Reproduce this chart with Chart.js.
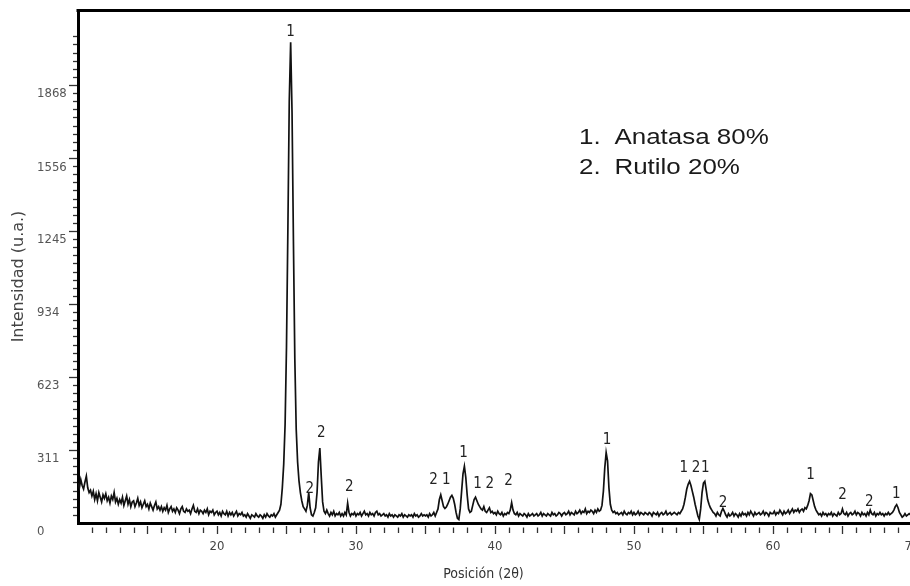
<!DOCTYPE html>
<html><head><meta charset="utf-8">
<script src="https://cdn.jsdelivr.net/npm/chart.js@4.4.1/dist/chart.umd.min.js"></script>
<style>html,body{margin:0;padding:0;background:#fff;overflow:hidden;width:910px;height:586px}canvas{display:block}</style>
</head><body><canvas id="c" width="930" height="586"></canvas>
<script>
// ---- data ----
const angleStart = 10.0;   // first sampled 2θ
const angleStep = 0.1;     // sampling step in 2θ
const counts10 = [
 170,150,185,160,145,175,200,150,130,140,
 115,135,100,125,95,130,110,90,120,105,
 125,95,110,85,115,100,130,90,105,80,
 100,85,110,75,95,115,80,100,70,90,
 95,70,85,105,75,90,65,80,95,70,
 80,60,85,70,55,75,90,60,70,55,
 70,50,65,55,75,45,60,70,50,60,
 45,65,55,40,60,70,50,45,60,50,
 55,40,60,75,50,45,60,40,55,50,
 40,55,45,60,35,50,45,55,35,45];
const counts20 = [
 50,35,45,30,50,40,35,50,30,45,
 35,45,30,40,50,30,40,35,45,30,
 35,25,40,30,20,35,30,25,40,30,
 25,35,30,20,35,25,40,30,25,35,
 30,40,25,35,45,55,80,150,250,420,
 750,1250,1800,2050,1750,1200,700,400,260,180,
 130,95,70,60,50,75,130,65,35,30,
 45,65,130,260,320,200,90,50,40,55,
 40,30,45,35,50,30,40,35,45,30,
 40,30,45,35,85,45,30,40,35,45];
const counts30 = [
 30,40,35,45,30,40,50,35,40,30,
 45,35,40,30,45,50,35,40,30,35,
 40,30,35,25,40,30,35,25,35,30,
 25,35,30,40,25,35,30,25,35,30,
 35,25,40,30,35,25,30,40,30,35,
 30,35,25,40,30,35,45,30,45,60,
 100,120,95,70,62,68,80,95,110,118,
 105,80,45,20,15,60,135,210,242,195,
 120,60,45,50,75,100,110,95,80,70,
 60,55,70,50,45,55,65,45,50,40];
const counts40 = [
 45,35,50,40,35,45,30,40,35,45,
 40,55,87,55,40,35,45,30,40,35,
 30,40,35,25,40,30,35,40,30,35,
 40,30,35,45,30,40,35,30,40,35,
 30,45,35,40,30,35,45,40,30,40,
 45,35,40,50,35,45,40,35,50,40,
 45,55,40,50,45,60,40,50,45,55,
 50,40,55,45,60,50,55,75,135,235,
 300,265,150,80,55,45,50,40,45,35,
 40,45,35,50,40,35,45,40,50,35];
const counts50 = [
 45,35,40,50,35,45,40,35,45,40,
 35,45,40,30,45,40,35,45,30,40,
 45,35,40,50,35,40,45,35,40,45,
 40,35,45,40,50,60,80,110,145,165,
 178,160,135,110,80,55,30,15,60,130,
 170,178,140,100,80,65,55,45,40,30,
 45,35,30,50,62,50,35,25,40,30,
 35,45,30,40,35,25,40,30,45,35,
 40,30,45,35,50,40,30,45,35,40,
 45,35,40,50,35,45,40,30,45,40];
const counts60 = [
 40,50,35,45,40,55,45,35,50,40,
 45,55,40,50,60,45,55,50,60,45,
 55,60,50,65,60,75,95,125,120,95,
 70,55,45,35,40,30,45,35,40,30,
 40,35,45,30,40,35,30,45,35,40,
 60,40,35,45,30,40,45,35,40,50,
 35,45,40,30,45,35,40,30,45,35,
 55,40,35,45,30,40,35,45,35,40,
 30,40,35,45,35,40,45,55,70,78,
 65,45,35,25,30,40,30,35,40,35,
 30,40,35];

const xTickValues = [20, 30, 40, 50, 60, 70];
const xTickLabels = ['20', '30', '40', '50', '60', '70'];
const yTickValues = [0, 311, 623, 934, 1245, 1556, 1868];
const yTickLabels = ['0', '311', '623', '934', '1245', '1556', '1868'];

const peakLabelAngle = [25.3, 26.67, 27.5, 29.52, 35.58, 36.5, 37.74, 38.75, 39.62, 40.98, 48.07, 53.58, 54.47, 55.13, 56.41, 62.7, 65.0, 66.93, 68.87];
const peakLabelLevel = [2093, 145, 385, 155, 185, 185, 300, 166, 166, 180, 354, 233, 233, 233, 84, 205, 119, 91, 122];
const peakLabelText  = ['1','2','2','2','2','1','1','1','2','2','1','1','2','1','2','1','2','2','1'];

const legendLines = [['1.', 'Anatasa 80%'], ['2.', 'Rutilo 20%']];
const yAxisTitle = 'Intensidad (u.a.)';
const xAxisTitle = 'Posición (2θ)';

// ---- build ----
const intensity = [].concat(counts10, counts20, counts30, counts40, counts50, counts60);
const points = intensity.map((v, i) => ({ x: +(angleStart + i * angleStep).toFixed(2), y: v }));

const NARROW = "'Liberation Sans Narrow','DejaVu Sans Condensed','Arial Narrow',sans-serif";

const decor = {
  id: 'decor',
  afterDraw(chart) {
    const { ctx, chartArea: a, scales: { x, y } } = chart;
    ctx.save();
    // top frame line
    ctx.strokeStyle = '#000'; ctx.lineWidth = 3;
    ctx.beginPath(); ctx.moveTo(a.left - 1.5, a.top + 0.5); ctx.lineTo(chart.width, a.top + 0.5); ctx.stroke();
    // x tick marks (every 1°, longer every 5°)
    ctx.strokeStyle = '#333'; ctx.lineWidth = 1.3;
    for (let v = 11; v <= 70; v += 1) {
      const px = Math.round(x.getPixelForValue(v)) + 0.5;
      const major = v % 5 === 0;
      ctx.beginPath();
      ctx.moveTo(px, a.bottom + (major ? 3 : 4.5));
      ctx.lineTo(px, a.bottom + (major ? 11 : 10));
      ctx.stroke();
    }
    // y tick marks
    const yMinor = 1868 / 6 / 9;
    for (let k = 1; k * yMinor < 2090; k++) {
      const v = k * yMinor;
      const major = k % 9 === 0;
      const py = Math.round(y.getPixelForValue(v)) + 0.5;
      ctx.beginPath();
      ctx.moveTo(a.left - (major ? 9 : 5), py);
      ctx.lineTo(a.left - 1, py);
      ctx.stroke();
    }
    // y axis title
    ctx.save();
    ctx.fillStyle = '#444'; ctx.font = "16px 'DejaVu Sans',sans-serif";
    ctx.textAlign = 'center'; ctx.textBaseline = 'middle';
    ctx.translate(19, (y.getPixelForValue(0) + y.getPixelForValue(2188)) / 2 + 10);
    ctx.rotate(-Math.PI / 2);
    ctx.fillText(yAxisTitle, 0, 0);
    ctx.restore();
    // peak labels
    ctx.fillStyle = '#222'; ctx.font = '15px ' + NARROW;
    ctx.textAlign = 'center'; ctx.textBaseline = 'middle';
    peakLabelAngle.forEach((ang, i) => {
      ctx.fillText(peakLabelText[i], x.getPixelForValue(ang), y.getPixelForValue(peakLabelLevel[i]));
    });
    // phase legend
    ctx.fillStyle = '#1a1a1a'; ctx.font = "22px 'Liberation Sans', Arial, sans-serif";
    ctx.textAlign = 'left'; ctx.textBaseline = 'alphabetic';
    legendLines.forEach((ln, i) => {
      ctx.save();
      ctx.translate(579, 144 + i * 30);
      ctx.scale(1.18, 1);
      ctx.fillText(ln[0], 0, 0);
      ctx.fillText(ln[1], 30, 0);
      ctx.restore();
    });
    ctx.restore();
  }
};

new Chart(document.getElementById('c'), {
  type: 'line',
  data: { datasets: [{ data: points, borderColor: '#111', borderWidth: 1.7, pointRadius: 0, tension: 0, fill: false }] },
  options: {
    responsive: false, animation: false,
    layout: { padding: { top: 10, left: 37, right: 0, bottom: 0 } },
    plugins: {
      legend: { display: false }, tooltip: { enabled: false },
      title: { display: true, position: 'bottom', text: xAxisTitle, color: '#333',
        font: { family: NARROW, size: 14, weight: 'normal' }, padding: { top: 0, bottom: 3 } }
    },
    scales: {
      x: {
        type: 'linear', min: 10, max: 71.3,
        afterBuildTicks: s => { s.ticks = xTickValues.map(v => ({ value: v })); },
        ticks: { callback: (v, i) => xTickLabels[i], color: '#444', font: { family: NARROW, size: 13 }, padding: 0, maxRotation: 0, autoSkip: false },
        grid: { display: true, drawOnChartArea: false, drawTicks: true, tickLength: 16, color: 'rgba(0,0,0,0)', tickColor: 'rgba(0,0,0,0)' },
        border: { display: true, color: '#000', width: 3 },
        afterFit: s => { s.height = 43.2; }
      },
      y: {
        type: 'linear', min: 0, max: 2188,
        afterBuildTicks: s => { s.ticks = yTickValues.map(v => ({ value: v })); },
        ticks: { callback: (v, i) => yTickLabels[i], color: '#555', font: { family: NARROW, size: 13 }, padding: 0, crossAlign: 'far', labelOffset: 9 },
        grid: { display: false, drawTicks: false },
        border: { display: true, color: '#000', width: 3 },
        afterFit: s => { s.width = 41; }
      }
    }
  },
  plugins: [decor]
});
</script>
</body></html>
